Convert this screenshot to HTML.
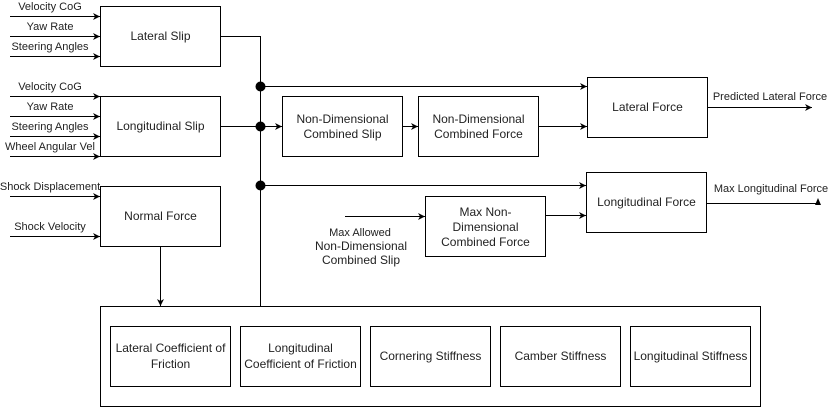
<!DOCTYPE html>
<html><head><meta charset="utf-8"><style>
html,body{margin:0;padding:0;background:#fff;width:829px;height:407px;overflow:hidden}
svg text{font-family:"Liberation Sans",Arial,sans-serif;fill:#222}
</style></head><body>
<svg width="829" height="407" viewBox="0 0 829 407" xmlns="http://www.w3.org/2000/svg">
<defs><marker id="a" markerWidth="8" markerHeight="8" refX="7" refY="4" orient="auto" markerUnits="userSpaceOnUse"><path d="M0,0.5 L7,4 L0,7.5 L2,4 Z" fill="#000"/></marker></defs>
<g fill="none" stroke="#000" stroke-width="1">
<rect x="100.5" y="6.5" width="120" height="60"/>
<rect x="100.5" y="96.5" width="120" height="60"/>
<rect x="100.5" y="186.5" width="120" height="60"/>
<rect x="282.5" y="96.5" width="120" height="60"/>
<rect x="418.5" y="96.5" width="120" height="60"/>
<rect x="587.5" y="77.5" width="120" height="60"/>
<rect x="586.5" y="172.5" width="120" height="60"/>
<rect x="425.5" y="196.5" width="120" height="60"/>
<rect x="100.5" y="306.5" width="660" height="100"/>
<rect x="110.5" y="326.5" width="120" height="60"/>
<rect x="240.5" y="326.5" width="120" height="60"/>
<rect x="370.5" y="326.5" width="120" height="60"/>
<rect x="500.5" y="326.5" width="120" height="60"/>
<rect x="630.5" y="326.5" width="120" height="60"/>
</g>
<g stroke="#000" stroke-width="1" fill="none" marker-end="url(#a)">
<line x1="10" y1="16.5" x2="100" y2="16.5"/>
<line x1="10" y1="36.5" x2="100" y2="36.5"/>
<line x1="10" y1="56.5" x2="100" y2="56.5"/>
<line x1="10" y1="96.5" x2="100" y2="96.5"/>
<line x1="10" y1="116.5" x2="100" y2="116.5"/>
<line x1="10" y1="136.5" x2="100" y2="136.5"/>
<line x1="10" y1="156.5" x2="100" y2="156.5"/>
<line x1="10" y1="196.5" x2="100" y2="196.5"/>
<line x1="10" y1="236.5" x2="100" y2="236.5"/>
<line x1="260.5" y1="86.5" x2="587" y2="86.5"/>
<line x1="220" y1="126.5" x2="282" y2="126.5"/>
<line x1="402" y1="126.5" x2="418" y2="126.5"/>
<line x1="538" y1="126.5" x2="587" y2="126.5"/>
<line x1="260.5" y1="185.5" x2="586" y2="185.5"/>
<line x1="345" y1="216.5" x2="425" y2="216.5"/>
<line x1="545" y1="215.5" x2="586" y2="215.5"/>
<line x1="707" y1="107.5" x2="812" y2="107.5"/>
<line x1="160.5" y1="246" x2="160.5" y2="306"/>
</g>
<g stroke="#000" fill="none">
<polyline points="220,36.5 260.5,36.5 260.5,306"/>
<line x1="101" y1="186.5" x2="100" y2="186.5"/>
<line x1="706" y1="203.5" x2="818" y2="203.5"/>
</g>
<path d="M815,205 L818,198 L821,205 Z" fill="#000"/>
<circle cx="260.5" cy="86.5" r="5" fill="#000"/>
<circle cx="260.5" cy="126.5" r="5" fill="#000"/>
<circle cx="260.5" cy="185.5" r="5" fill="#000"/>
<g font-size="11" text-anchor="middle">
<text x="50" y="10">Velocity CoG</text>
<text x="50" y="30">Yaw Rate</text>
<text x="50" y="50">Steering Angles</text>
<text x="50" y="90">Velocity CoG</text>
<text x="50" y="110">Yaw Rate</text>
<text x="50" y="130">Steering Angles</text>
<text x="50" y="150">Wheel Angular Vel</text>
<text x="50" y="190">Shock Displacement</text>
<text x="50" y="230">Shock Velocity</text>
<text x="770" y="100">Predicted Lateral Force</text>
<text x="771" y="192">Max Longitudinal Force</text>
<text x="360" y="236">Max Allowed</text>
</g>
<g font-size="12" text-anchor="middle">
<text x="160.5" y="40">Lateral Slip</text>
<text x="160.5" y="130">Longitudinal Slip</text>
<text x="160.5" y="220">Normal Force</text>
<text x="342.5" y="123">Non-Dimensional</text>
<text x="342.5" y="138">Combined Slip</text>
<text x="478.5" y="123">Non-Dimensional</text>
<text x="478.5" y="138">Combined Force</text>
<text x="647.5" y="111">Lateral Force</text>
<text x="646.5" y="206">Longitudinal Force</text>
<text x="485.5" y="216">Max Non-</text>
<text x="485.5" y="231">Dimensional</text>
<text x="485.5" y="246">Combined Force</text>
<text x="361" y="250">Non-Dimensional</text>
<text x="361" y="264">Combined Slip</text>
<text x="170.5" y="352">Lateral Coefficient of</text>
<text x="170.5" y="368">Friction</text>
<text x="300.5" y="352">Longitudinal</text>
<text x="300.5" y="368">Coefficient of Friction</text>
<text x="430.5" y="360">Cornering Stiffness</text>
<text x="560.5" y="360">Camber Stiffness</text>
<text x="690.5" y="360">Longitudinal Stiffness</text>
</g>
</svg>
</body></html>
